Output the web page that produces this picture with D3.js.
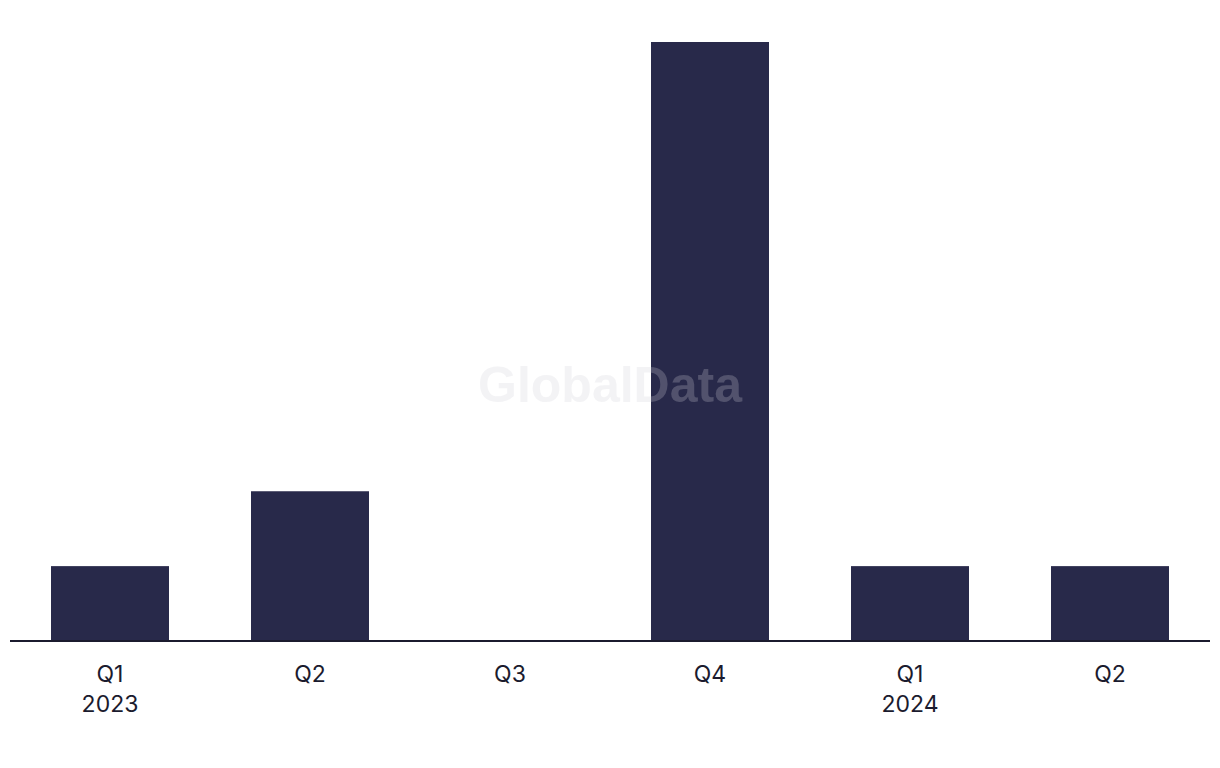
<!DOCTYPE html>
<html>
<head>
<meta charset="utf-8">
<script src="https://cdn.jsdelivr.net/npm/d3@7"></script>
<style>
  body { margin: 0; background: #fff; }
  svg { display: block; }
</style>
</head>
<body>
<div id="chart"></div>
<script>
const quarters = ['Q1', 'Q2', 'Q3', 'Q4', 'Q1', 'Q2'];
const years    = ['2023', '', '', '', '2024', ''];
const values   = [1, 2, 0, 8, 1, 1];

const width  = 1220;
const height = 768;
const pad = {l: 10, r: 10, t: 42, b: 127};
const barColor = '#28294a';
const inkColor = '#1b1b2e';

const svg = d3.select('#chart')
  .append('svg')
  .attr('width', width)
  .attr('height', height);

const keys = values.map((v, i) => i);

const x = d3.scaleBand()
  .domain(keys)
  .range([pad.l, width - pad.r])
  .paddingInner(0.41)
  .paddingOuter(0.205);

const y = d3.scaleLinear()
  .domain([0, d3.max(values)])
  .range([height - pad.b, pad.t]);

// bars
svg.append('g')
  .selectAll('rect')
  .data(values)
  .join('rect')
  .attr('x', (d, i) => x(i))
  .attr('width', x.bandwidth())
  .attr('y', d => y(d))
  .attr('height', d => y(0) - y(d))
  .attr('fill', barColor);

// baseline
svg.append('line')
  .attr('x1', pad.l).attr('x2', width - pad.r)
  .attr('y1', y(0)).attr('y2', y(0))
  .attr('stroke', inkColor)
  .attr('stroke-width', 2);

// category labels
const axisX = d3.axisBottom(x)
  .tickSize(0)
  .tickPadding(0)
  .tickFormat(() => '');
const ax = svg.append('g')
  .attr('transform', `translate(0, ${y(0)})`)
  .call(axisX);
ax.select('.domain').remove();

ax.selectAll('.tick').each(function (i) {
  const t = d3.select(this).append('text')
    .attr('fill', inkColor)
    .attr('font-family', 'Inter, Liberation Sans, Arial, sans-serif')
    .attr('font-size', 23)
    .attr('text-anchor', 'middle');
  t.append('tspan').attr('x', 0).attr('y', 41).text(quarters[i]);
  if (years[i]) t.append('tspan').attr('x', 0).attr('y', 71).text(years[i]);
});

// watermark
svg.append('text')
  .attr('x', width / 2)
  .attr('y', 402)
  .attr('text-anchor', 'middle')
  .attr('font-family', 'Liberation Sans, Arial, sans-serif')
  .attr('font-weight', 'bold')
  .attr('font-size', 50)
  .attr('fill', '#d0d0d8')
  .attr('fill-opacity', 0.25)
  .text('GlobalData');
</script>
</body>
</html>
